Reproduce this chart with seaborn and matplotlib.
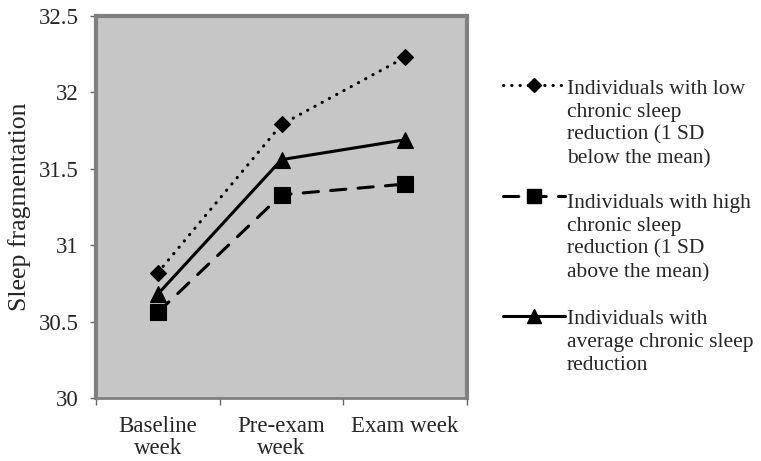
import matplotlib
matplotlib.use("Agg")
import matplotlib.pyplot as plt
from matplotlib.lines import Line2D
import seaborn as sns
import pandas as pd
import numpy as np

categories = ["Baseline\nweek", "Pre-exam\nweek", "Exam week"]
low_values = [30.82, 31.79, 32.23]
high_values = [30.56, 31.33, 31.40]
avg_values = [30.68, 31.56, 31.69]
series_labels = [
    "Individuals with low\nchronic sleep\nreduction (1 SD\nbelow the mean)",
    "Individuals with high\nchronic sleep\nreduction (1 SD\nabove the mean)",
    "Individuals with\naverage chronic sleep\nreduction",
]
y_ticks = [30, 30.5, 31, 31.5, 32, 32.5]
y_ticklabels = ["30", "30.5", "31", "31.5", "32", "32.5"]

sns.set_style("white")
plt.rcParams["font.family"] = ["Liberation Serif", "DejaVu Serif"]

W, H = 761, 461
fig = plt.figure(figsize=(W / 100, H / 100), dpi=100)
ax = fig.add_axes([96 / W, 1 - 398 / H, (467 - 96) / W, (398 - 16) / H])
ax.set_facecolor("#C6C6C6")

x = np.arange(len(categories))
styles = [
    (low_values, (0, (0.1, 2.6)), "D", 8.6),
    (high_values, (0, (5, 4)), "s", 12),
    (avg_values, "-", "^", 12),
]
for vals, ls, mk, ms in styles:
    df = pd.DataFrame({"x": x, "y": vals})
    sns.lineplot(data=df, x="x", y="y", ax=ax, color="black", linewidth=2.2,
                 marker=mk, markersize=ms, markeredgecolor="black",
                 markerfacecolor="black", markeredgewidth=0.8, legend=False)
    line = ax.lines[-1]
    line.set_linestyle(ls)
    line.set_dash_capstyle("round")

ax.set_xlim(-0.5, 2.5)
ax.set_ylim(30, 32.5)
ax.set_yticks(y_ticks)
ax.set_yticklabels(y_ticklabels, fontsize=16.5)
ax.set_xticks([-0.5, 0.5, 1.5, 2.5])
ax.set_xticklabels([])
ax.set_xticks(x, minor=True)
ax.set_xticklabels(categories, minor=True, fontsize=16.5, linespacing=1.07)
ax.tick_params(axis="x", which="minor", length=0, pad=13)
ax.tick_params(axis="x", which="major", length=5, width=1, color="#666666",
               direction="out", bottom=True)
ax.tick_params(axis="y", length=4.5, width=1, color="#666666", direction="out",
               left=True, pad=8)
ax.set_xlabel("")
ax.set_ylabel("Sleep fragmentation", fontsize=18.5)
ax.yaxis.set_label_coords(-0.175, 0.5)

for side in ["left", "top", "right"]:
    ax.spines[side].set_visible(True)
    ax.spines[side].set_color("#808080")
    ax.spines[side].set_linewidth(3)
ax.spines["bottom"].set_visible(True)
ax.spines["bottom"].set_color("#808080")
ax.spines["bottom"].set_linewidth(2)

# legend drawn manually so the key sits beside the first line of each label
def fx(px):
    return px / W

def fy(py):
    return 1 - py / H

handle_y = [85, 196, 316]
last_baseline_y = [163, 277, 370]
for (vals, ls, mk, ms), lab, yh, yb in zip(styles, series_labels, handle_y, last_baseline_y):
    ln = Line2D([fx(503), fx(565)], [fy(yh), fy(yh)], transform=fig.transFigure,
                color="black", linewidth=2.2, linestyle=ls)
    ln.set_dash_capstyle("round")
    fig.add_artist(ln)
    mkr = Line2D([fx(534)], [fy(yh)], transform=fig.transFigure, color="black",
                 marker=mk, markersize=ms * 0.85, markerfacecolor="black",
                 markeredgecolor="black", linestyle="none")
    fig.add_artist(mkr)
    fig.text(fx(567), fy(yb), lab, fontsize=15.5, ha="left", va="baseline",
             linespacing=1.28, transform=fig.transFigure)

fig.savefig("out.png", dpi=100)
